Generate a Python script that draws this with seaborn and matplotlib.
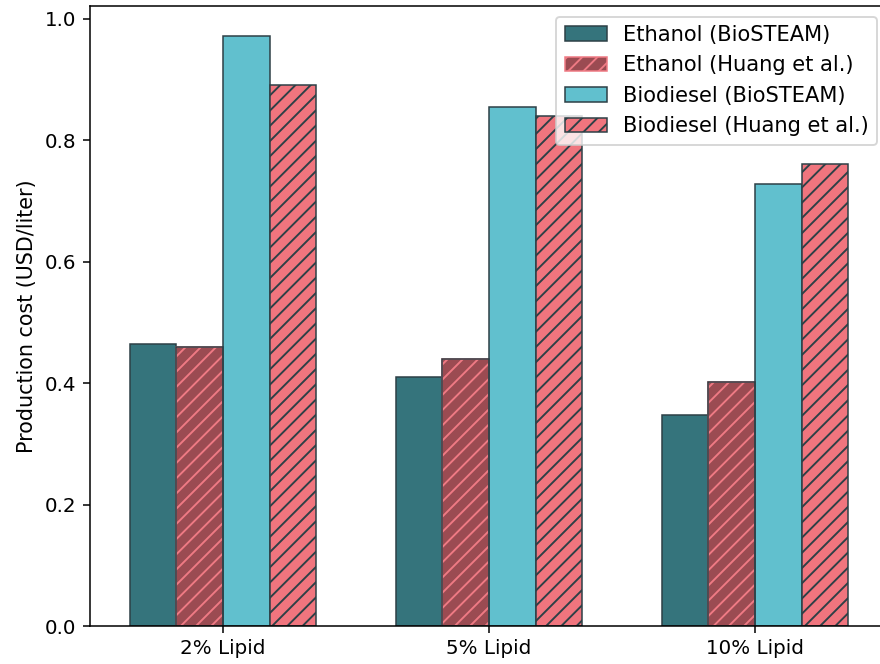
import numpy as np
import pandas as pd
import matplotlib
matplotlib.use("Agg")
import matplotlib.pyplot as plt
import seaborn as sns
from matplotlib.patches import Patch, Rectangle

# === data ===
categories = ['2% Lipid', '5% Lipid', '10% Lipid']
series = ['Ethanol (BioSTEAM)', 'Ethanol (Huang et al.)',
          'Biodiesel (BioSTEAM)', 'Biodiesel (Huang et al.)']
ethanol_biosteam = [0.465, 0.410, 0.348]
ethanol_huang = [0.460, 0.440, 0.401]
biodiesel_biosteam = [0.972, 0.854, 0.727]
biodiesel_huang = [0.890, 0.840, 0.760]

colors = ['#35747c', '#9b4b52', '#61c0ce', '#f0757e']
hatches = ['', '///', '', '///']
edge = '#2d4046'
hatch_light = '#ef7a84'

df = pd.DataFrame({
    'lipid': categories * 4,
    'series': np.repeat(series, 3),
    'cost': ethanol_biosteam + ethanol_huang + biodiesel_biosteam + biodiesel_huang,
})

fig = plt.figure(figsize=(6.4, 664 / 137.5), dpi=137.5)
ax = fig.add_axes([90 / 880, 38 / 664, 798 / 880, 620 / 664])

sns.barplot(data=df, x='lipid', y='cost', hue='series', order=categories,
            hue_order=series, palette=colors, saturation=1, width=0.7, ax=ax,
            edgecolor=edge, linewidth=0.8, legend=False)

# hatch each series; ethanol (Huang) gets a light hatch with a dark outline on top
for i, cont in enumerate(ax.containers):
    for p in cont:
        p.set_hatch(hatches[i])
        if i == 1:
            p.set_edgecolor(hatch_light)
            ax.add_patch(Rectangle(p.get_xy(), p.get_width(), p.get_height(),
                                   fill=False, edgecolor=edge, linewidth=0.8, zorder=p.get_zorder() + 0.1))
        else:
            p.set_edgecolor(edge)

handles = []
for i, s in enumerate(series):
    ec = hatch_light if i == 1 else edge
    handles.append(Patch(facecolor=colors[i], edgecolor=ec, hatch=hatches[i], linewidth=0.8, label=s))
ax.legend(handles=handles, loc='upper right', fontsize=11)

ax.set_xlabel('')
ax.set_ylabel('Production cost (USD/liter)', fontsize=10.8)
ax.set_yticks([0.0, 0.2, 0.4, 0.6, 0.8, 1.0])
ax.tick_params(labelsize=10.4)

fig.savefig('out.png', dpi=137.5)
